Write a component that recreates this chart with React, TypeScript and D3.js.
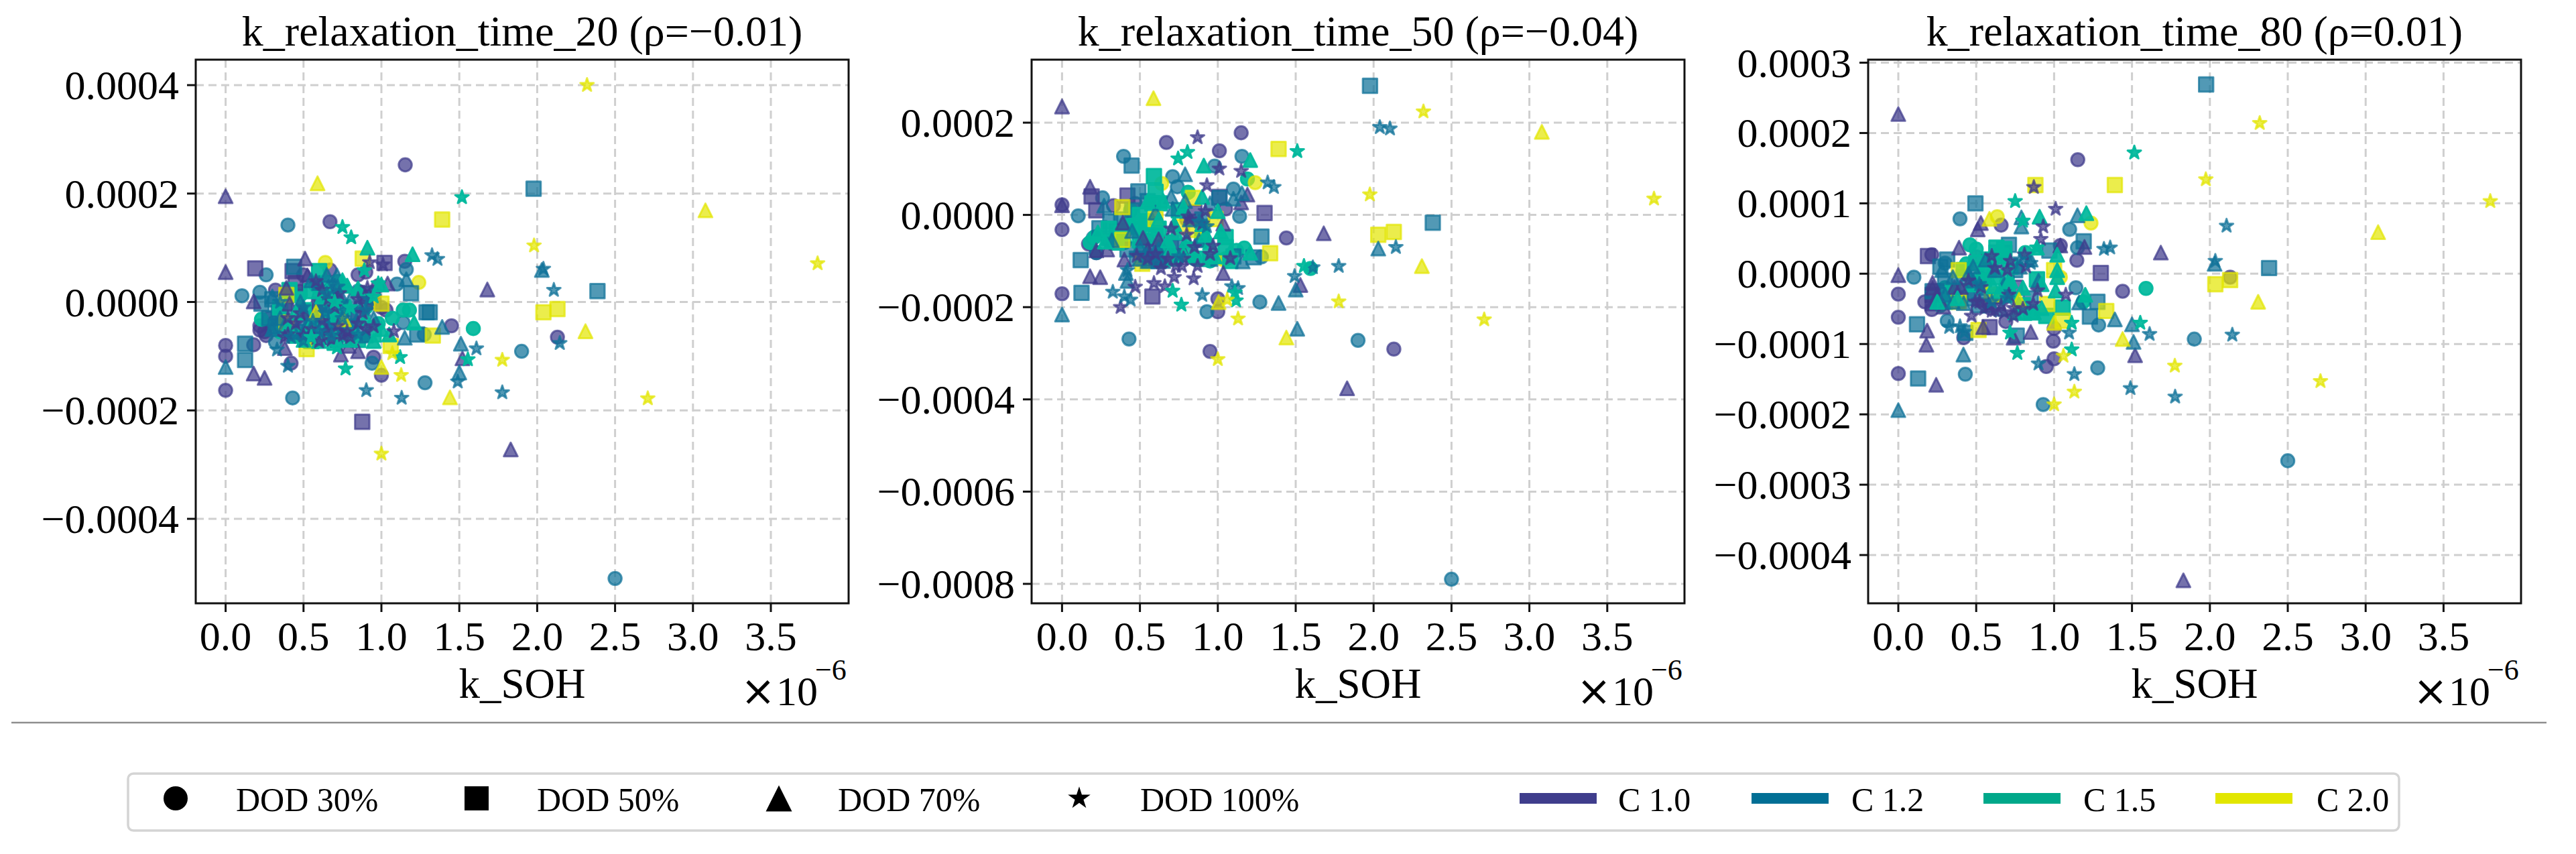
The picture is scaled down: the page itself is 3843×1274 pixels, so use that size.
import React from "react";
import * as d3 from "d3";

type Pt = [number, number, number]; // [k_SOH ×1e-6, k_relaxation ×1e-4, DOD index]

const dodLabels = ["DOD 30%", "DOD 50%", "DOD 70%", "DOD 100%"];
const cLabels = ["C 1.0", "C 1.2", "C 1.5", "C 2.0"];
const legendColors = ["#3f3d8c", "#016f95", "#00a88a", "#e2e600"];
const markerColors = ["#403c8c", "#0f7199", "#00b89c", "#e2e600"];
const markerAlpha = [0.72, 0.72, 0.93, 0.7];
const xTicks = [0, 0.5, 1, 1.5, 2, 2.5, 3, 3.5];

const titles = ["k_relaxation_time_20 (ρ=−0.01)", "k_relaxation_time_50 (ρ=−0.04)", "k_relaxation_time_80 (ρ=0.01)"];
const yTicks20 = [-4, -2, 0, 2, 4];
const yTicks50 = [-8, -6, -4, -2, 0, 2];
const yTicks80 = [-4, -3, -2, -1, 0, 1, 2, 3];

const p20c10: Pt[] = [
  [1.153, 2.53, 0], [0.67, 1.48, 0], [0, -0.8, 0], [0, -1, 0], [0, -1.63, 0], [0.18, -0.79, 0], [0.42, -1.13, 0], [0.95, -1.02, 0], [1, -1.35, 0], [1.45, -0.44, 0], [2.13, -0.65, 0], [1.15, 0.75, 0], [0.22, -0.44, 0], [0.22, -0.52, 0], [0.32, 0.22, 0], [0.48, 0.2, 0], [0.67, 0.59, 0], [0.5, 0.5, 0], [0.3, -0.4, 0], [0.25, -0.55, 0], [0.55, -0.3, 0], [0.95, 0.15, 0], [1, -0.1, 0], [0.28, -0.3, 0], [0.26, -0.62, 0], [0.85, 0.5, 0], [0.9, 0.55, 0], [0.98, 0.3, 0], [1.03, -0.15, 0],
  [0.19, 0.62, 1], [1.02, 0.72, 1], [0.43, 0.57, 1], [0.877, -2.21, 1], [0.6, -0.05, 1], [0.8, -0.2, 1], [0.95, 0, 1], [0.45, 0.35, 1],
  [0, 1.95, 2], [0, 0.55, 2], [0.51, 0.8, 2], [1.68, 0.23, 2], [0.18, -1.32, 2], [0.25, -1.4, 2], [0.18, 0.01, 2], [0.41, -0.03, 2], [0.39, 0.26, 2], [0.74, -0.97, 2], [0.85, -0.91, 2], [0.38, -0.85, 2], [0.79, -0.81, 2], [1.52, -1.04, 2], [1.83, -2.72, 2], [1.04, 0.34, 2], [0.525, 0.49, 2], [0.5, -0.2, 2], [0.7, 0.2, 2], [0.9, 0.1, 2], [0.6, -0.65, 2],
  [0.925, 0.73, 3], [1.01, 0.69, 3], [0.62, 0.22, 3], [0.73, 0.16, 3], [0.91, 0.26, 3], [0.48, -0.21, 3], [1.08, -0.54, 3], [0.6, -0.73, 3], [0.38, -0.65, 3], [0.9, -0.5, 3], [0.72, -0.44, 3], [0.8, -0.65, 3], [0.65, -0.54, 3], [0.85, -0.4, 3], [0.55, -0.5, 3], [0.7, -0.1, 3], [0.62, -0.35, 3], [0.78, -0.55, 3], [0.95, -0.45, 3], [0.85, 0.05, 3], [0.45, -0.4, 3], [0.4, -0.6, 3], [0.5, -0.62, 3], [0.58, 0.38, 3], [0.66, 0.05, 3], [0.75, -0.62, 3], [0.88, -0.2, 3], [0.4, -0.3, 3], [0.68, -0.7, 3],
];
const p20c12: Pt[] = [
  [0.4, 1.42, 0], [0.26, 0.5, 0], [0.105, 0.115, 0], [0.22, 0.18, 0], [0.32, -0.74, 0], [0.43, -1.77, 0], [0.94, -1.13, 0], [1.28, -1.49, 0], [1.9, -0.91, 0], [2.5, -5.1, 0], [1.1, 0.33, 0], [1.16, 0.6, 0], [1.275, -0.6, 0], [1.14, -0.38, 0], [0.4, -0.5, 0], [0.6, 0.1, 0], [0.7, -0.2, 0], [0.55, -0.6, 0], [0.75, -0.45, 0], [0.85, 0.2, 0],
  [1.977, 2.09, 1], [2.387, 0.2, 1], [0.125, -0.77, 1], [0.125, -1.07, 1], [0.44, 0.65, 1], [1.19, 0.16, 1], [1.29, -0.19, 1], [1.31, -0.19, 1], [1.23, -0.6, 1], [0.23, -0.03, 1], [0.3, 0.05, 1], [0.38, -0.1, 1], [0.45, -0.55, 1], [0.55, -0.45, 1], [0.65, -0.35, 1], [0.7, -0.5, 1], [0.85, -0.25, 1], [0.32, -0.45, 1], [0.5, -0.6, 1], [0.9, 0.15, 1], [0.28, -0.3, 1], [0.34, -0.2, 1], [0.42, -0.38, 1], [0.5, -0.3, 1], [0.58, -0.55, 1], [0.62, -0.2, 1], [0.68, -0.62, 1], [0.74, -0.35, 1], [0.8, -0.45, 1], [0.88, -0.55, 1], [0.46, -0.62, 1], [0.54, -0.7, 1],
  [0, -1.2, 2], [1.15, -0.66, 2], [1.39, -0.46, 2], [1.51, -0.77, 2], [1.5, -1.3, 2], [1.16, 0.42, 2], [2.03, 0.59, 2], [0.715, 0.49, 2], [0.78, 0.3, 2], [0.3, 0.1, 2], [0.35, -0.3, 2], [0.5, -0.55, 2], [0.6, -0.25, 2], [0.7, 0.3, 2], [0.75, -0.55, 2], [0.85, -0.05, 2], [0.95, -0.3, 2], [0.55, 0.4, 2], [0.65, 0.5, 2], [0.8, 0.05, 2], [0.3, -0.5, 2], [0.38, -0.42, 2], [0.44, -0.55, 2], [0.52, -0.45, 2], [0.58, -0.6, 2], [0.66, -0.45, 2], [0.72, -0.7, 2], [0.68, -0.05, 2], [0.74, 0.12, 2], [0.6, 0.35, 2], [0.66, 0.28, 2], [0.9, -0.62, 2], [0.84, -0.35, 2], [0.48, 0, 2],
  [1.325, 0.86, 3], [1.36, 0.79, 3], [2.04, 0.61, 3], [2.107, 0.22, 3], [2.145, -0.76, 3], [1.61, -0.86, 3], [1.49, -1.47, 3], [1.776, -1.67, 3], [0.903, -1.63, 3], [1.13, -1.77, 3], [0.33, -0.88, 3], [0.4, -1.18, 3], [0.5, -0.1, 3], [0.65, 0.15, 3], [0.75, -0.3, 3], [0.9, -0.15, 3], [0.6, -0.55, 3], [0.85, -0.6, 3], [0.35, 0, 3], [0.42, -0.65, 3], [0.5, -0.72, 3], [0.56, -0.35, 3], [0.68, -0.62, 3], [0.72, 0.28, 3], [0.76, -0.15, 3], [0.92, 0.05, 3], [0.64, -0.2, 3],
];
const p20c15: Pt[] = [
  [1.59, -0.49, 0], [1.14, -0.15, 0], [1.18, -0.15, 0], [1.07, -0.3, 0], [0.23, -0.32, 0], [0.32, -0.4, 0], [0.48, 0.13, 0], [0.58, 0.3, 0], [0.7, 0.2, 0], [0.6, -0.1, 0], [0.8, -0.55, 0], [0.9, -0.1, 0], [0.35, -0.55, 0], [0.42, 0.1, 0], [0.72, 0.38, 0], [0.98, -0.4, 0], [0.66, -0.3, 0],
  [0.6, 0.57, 1], [0.41, 0.22, 1], [0.55, 0.2, 1], [0.65, -0.65, 1], [0.75, -0.1, 1], [0.85, -0.7, 1], [0.5, -0.15, 1], [0.6, -0.35, 1], [0.95, -0.6, 1], [0.35, -0.1, 1], [0.45, -0.62, 1], [0.55, -0.72, 1], [0.7, -0.75, 1], [0.8, -0.6, 1], [0.62, 0.35, 1], [0.68, 0.05, 1], [0.72, -0.3, 1],
  [0.91, 1, 2], [1.2, 0.88, 2], [1.21, -0.38, 2], [0.78, 0.3, 2], [1, 0.32, 2], [0.73, -0.11, 2], [0.62, 0.1, 2], [0.7, -0.65, 2], [0.8, -0.7, 2], [0.9, -0.3, 2], [1, -0.5, 2], [0.45, -0.2, 2], [0.55, -0.4, 2], [0.85, 0.25, 2], [0.5, -0.7, 2], [0.6, -0.72, 2], [0.65, 0.2, 2], [0.75, 0.4, 2], [0.95, -0.72, 2], [1.05, -0.6, 2], [0.4, -0.45, 2],
  [1.517, 1.93, 3], [0.75, 1.38, 3], [0.806, 1.19, 3], [0.715, -0.84, 3], [0.77, -1.23, 3], [1.555, -1.06, 3], [1.12, -1.02, 3], [0.89, 0.58, 3], [0.98, 0.34, 3], [0.7, 0, 3], [0.8, -0.1, 3], [0.95, 0.1, 3], [0.55, -0.65, 3],
];
const p20c20: Pt[] = [
  [0.64, 0.73, 0], [1.24, 0.36, 0],
  [1.39, 1.52, 1], [2.04, -0.19, 1], [2.13, -0.13, 1], [1.33, -0.62, 1], [0.52, -0.87, 1], [0.88, 0.8, 1], [0.39, 0.13, 1], [1, -0.03, 1], [0.39, -0.38, 1], [1.06, -0.81, 1],
  [0.59, 2.19, 2], [1, -1.2, 2], [1.44, -1.76, 2], [2.31, -0.54, 2], [3.08, 1.69, 2], [0.76, -0.32, 2], [0.58, -0.19, 2],
  [1.98, 1.04, 3], [1.776, -1.07, 3], [1.127, -1.35, 3], [1.07, -0.95, 3], [2.32, 4, 3], [3.8, 0.71, 3], [2.71, -1.78, 3], [1, -2.8, 3],
];

const p50c10: Pt[] = [
  [1.15, 1.78, 0], [0.67, 1.57, 0], [1.01, 1.39, 0], [1.44, -0.5, 0], [0, -0.32, 0], [0, 0.22, 0], [0, -1.71, 0], [0.17, -0.63, 0], [1, -1.82, 0], [1, -2.1, 0], [0.95, -2.96, 0], [2.13, -2.91, 0], [0.33, 0.2, 0], [0.47, 0.25, 0], [1.05, 0.13, 0], [0.22, -0.82, 0], [0.55, -0.55, 0], [0.8, -0.1, 0],
  [0.42, 0.42, 1], [0.19, 0.4, 1], [0.22, 0.1, 1], [1.3, 0.04, 1], [0.58, -1.77, 1], [1.01, 0.39, 1], [0.85, 0.05, 1], [0.7, -0.6, 1],
  [0, 2.35, 2], [0.18, 0.61, 2], [0, 0.21, 2], [1.68, -0.4, 2], [0.18, -1.33, 2], [0.245, -1.35, 2], [0.4, -0.97, 2], [0.39, -0.17, 2], [0.22, -0.77, 2], [0.29, -0.75, 2], [1.15, 0.27, 2], [1.035, -0.19, 2], [1.53, -1.52, 2], [0.77, -0.75, 2], [0.62, -0.53, 2], [1.035, -1.26, 2], [1.19, 0.44, 2], [1.83, -3.76, 2], [0.6, -0.9, 2], [0.68, -0.85, 2], [0.52, -0.5, 2], [0.55, -0.75, 2], [0.6, -0.95, 2],
  [0.87, 1.68, 3], [1.01, 1, 3], [1.15, 0.95, 3], [0.93, 0.64, 3], [0.92, 0.08, 3], [0.81, -0.04, 3], [0.376, -2, 3], [0.47, -1.56, 3], [0.59, -1.48, 3], [0.66, -1.55, 3], [0.635, -1.16, 3], [0.72, -1.35, 3], [0.73, -1.11, 3], [0.845, -1.38, 3], [0.87, -1.11, 3], [0.77, -1.11, 3], [0.8, -0.43, 3], [1.08, -0.94, 3], [0.48, -0.89, 3], [0.97, -0.67, 3], [0.9, -0.19, 3], [0.68, -0.95, 3], [0.55, -0.95, 3], [0.6, -0.85, 3], [0.78, -0.95, 3], [0.85, -0.7, 3], [0.95, -0.85, 3], [0.7, -0.3, 3], [0.82, -0.1, 3],
];
const p50c12: Pt[] = [
  [0.395, 1.27, 0], [0.104, -0.02, 0], [0.26, 0.37, 0], [1.14, -0.03, 0], [1.155, 1.27, 0], [0.98, 1.06, 0], [0.71, 0.83, 0], [0.74, 0.61, 0], [1.1, 0.56, 0], [0.93, -2.1, 0], [1.27, -1.89, 0], [0.43, -2.69, 0], [1.9, -2.72, 0], [0.22, -0.82, 0], [1.28, -0.91, 0], [2.5, -7.9, 0], [0.4, -0.4, 0], [0.65, -0.7, 0], [0.2, -0.5, 0],
  [0.447, 1.07, 1], [0.12, -0.98, 1], [0.125, -1.69, 1], [1.28, -0.47, 1], [2.38, -0.17, 1], [1.01, 0.37, 1], [0.49, 0.51, 1], [0.24, -0.29, 1], [0.31, -0.14, 1], [1.23, -0.92, 1], [1.977, 2.8, 1], [0.35, -0.35, 1], [0.6, -0.75, 1], [0.68, -0.9, 1], [0.56, -1, 1], [0.75, -0.7, 1], [0.3, -0.5, 1], [0.38, -0.1, 1], [0.42, -0.75, 1], [0.48, -0.95, 1], [0.52, -0.7, 1], [0.58, -0.95, 1], [0.62, -1, 1], [0.45, 0.1, 1], [0.55, 0.3, 1], [0.9, -0.1, 1], [0.95, -0.95, 1], [1.1, -0.9, 1],
  [0.79, 0.88, 2], [0, -2.16, 2], [1.39, -1.91, 2], [1.5, -1.62, 2], [1.51, -2.47, 2], [2.03, -0.73, 2], [1.155, 0.47, 2], [0.27, 0.2, 2], [0.71, 0.13, 2], [0.41, -1.26, 2], [0.42, -1.43, 2], [1.16, -1.01, 2], [0.79, 0.3, 2], [0.59, -0.82, 2], [0.54, -0.87, 2], [0.6, 0.05, 2], [0.5, -0.7, 2], [0.65, -1, 2], [0.9, -0.2, 2], [0.88, -0.55, 2], [0.32, -0.55, 2], [0.5, -0.95, 2], [0.55, -1, 2], [0.62, -0.75, 2], [0.62, -0.95, 2], [0.45, -0.35, 2], [0.7, 0.4, 2], [0.72, -0.2, 2], [0.82, -0.1, 2], [0.95, 0.25, 2], [1.1, 0.35, 2],
  [1.32, 0.7, 3], [1.36, 0.6, 3], [2.04, 1.9, 3], [2.105, 1.87, 3], [2.143, -0.7, 3], [1.61, -1.14, 3], [1.776, -1.11, 3], [1.493, -1.33, 3], [0.9, -1.74, 3], [1.09, -1.55, 3], [1.13, -1.59, 3], [0.326, -1.67, 3], [0.4, -1.77, 3], [0.44, -1.84, 3], [0.42, -1.2, 3], [0.88, -0.15, 3], [0.93, -0.25, 3], [0.75, -0.9, 3],
];
const p50c15: Pt[] = [
  [1.19, 0.78, 0], [1.595, -1.16, 0], [1.17, -0.72, 0], [1.12, -0.77, 0], [0.81, 0.49, 0], [0.44, 0.1, 0], [0.21, -0.48, 0], [0.5, -0.3, 0], [0.95, -1, 0], [1.05, -0.95, 0], [0.18, -0.6, 0], [0.3, -0.55, 0], [0.4, -0.6, 0], [0.85, -0.95, 0],
  [0.59, 0.84, 1], [0.626, 0.25, 1], [0.47, -0.24, 1], [1.05, -0.48, 1], [0.9, -0.53, 1], [0.54, -0.14, 1], [0.6, 0.5, 1], [0.38, -0.4, 1], [0.5, -0.55, 1], [0.62, -0.3, 1], [0.75, 0.1, 1], [0.3, -0.3, 1], [0.35, -0.6, 1], [0.42, -0.25, 1], [0.5, 0, 1], [0.55, -0.2, 1], [0.58, 0.25, 1], [0.6, -0.45, 1], [0.65, -0.7, 1], [0.82, -0.75, 1], [0.9, -0.95, 1], [1.05, -0.7, 1], [1.08, -1, 1],
  [0.91, 1.07, 2], [1.208, 1.19, 2], [0.78, 0.17, 2], [0.9, 0.39, 2], [1, 0.08, 2], [0.73, -0.38, 2], [0.7, -0.72, 2], [0.92, -0.43, 2], [1.02, -0.36, 2], [0.84, -0.87, 2], [1.208, -0.82, 2], [0.23, -0.38, 2], [0.275, -0.58, 2], [0.72, -0.95, 2], [0.98, -0.9, 2], [1.08, -0.8, 2], [0.68, -0.55, 2], [0.72, -0.2, 2], [0.78, -0.85, 2], [0.8, -0.55, 2], [0.9, -0.2, 2], [0.95, -0.6, 2], [0.62, -0.1, 2], [0.55, 0.3, 2], [0.65, 0.3, 2],
  [1.51, 1.38, 3], [0.745, 1.22, 3], [0.805, 1.36, 3], [0.71, -1.65, 3], [0.766, -1.95, 3], [1.553, -1.11, 3], [1.117, -1.86, 3], [1.11, -1.69, 3],
];
const p50c20: Pt[] = [
  [0.64, 0.68, 0], [1.24, 0.7, 0], [1.035, -0.97, 0],
  [1.39, 1.43, 1], [0.387, 0.17, 1], [0.387, -0.54, 1], [0.6, -0.09, 1], [1.336, -0.83, 1], [2.03, -0.43, 1], [2.13, -0.37, 1], [0.515, -1.06, 1], [0.985, -0.09, 1], [0.84, 0.37, 1], [0.77, -0.26, 1], [0.85, -0.33, 1],
  [1.44, -2.66, 2], [2.31, -1.11, 2], [1.005, -1.89, 2], [0.587, 2.53, 2], [3.08, 1.8, 2],
  [1.976, 0.44, 3], [1.776, -1.88, 3], [1.13, -2.25, 3], [1.06, -1.84, 3], [2.32, 2.24, 3], [3.8, 0.35, 3], [2.71, -2.27, 3], [1, -3.13, 3],
];

const p80c10: Pt[] = [
  [1.152, 1.62, 0], [0.66, 0.69, 0], [1.04, 0.4, 0], [1.146, 0.19, 0], [1.44, -0.25, 0], [2.13, -0.05, 0], [0.69, -0.68, 0], [0.995, -0.96, 0], [1, -1.21, 0], [0.95, -1.32, 0], [0.17, -0.4, 0], [0.215, -0.51, 0], [0.42, -0.91, 0], [1, -0.78, 0], [0.215, 0.27, 0], [0.5, 0.24, 0], [0, -0.29, 0], [0, -0.62, 0], [0, -1.42, 0],
  [0.19, 0.25, 1], [1.3, 0.01, 1], [0.586, -0.76, 1], [0.22, -0.3, 1], [0.22, -0.42, 1], [0.75, -0.2, 1],
  [0.53, 0.72, 2], [0.51, 0.63, 2], [0.39, 0.37, 2], [1.685, 0.3, 2], [0.185, -0.81, 2], [0.18, -1.01, 2], [0.243, -1.58, 2], [0.85, -0.83, 2], [1.52, -1.16, 2], [1.195, 0.38, 2], [1.04, 0.4, 2], [0.545, -0.76, 2], [0.29, -0.47, 2], [0.22, -0.13, 2], [0.4, -0.19, 2], [0.36, -0.19, 2], [0.74, -0.91, 2], [0, 2.27, 2], [0, -0.02, 2], [1.83, -4.36, 2], [0.22, -0.2, 2], [0.25, -0.3, 2],
  [0.87, 1.23, 3], [1.01, 0.92, 3], [0.93, 0.67, 3], [0.915, 0.49, 3], [0.47, -0.6, 3], [1.075, -0.3, 3], [0.894, -0.24, 3], [0.866, -0.43, 3], [0.71, -0.3, 3], [0.6, -0.53, 3], [0.74, -0.49, 3], [0.62, 0.08, 3], [0.81, 0.27, 3], [0.495, -0.4, 3], [0.53, -0.19, 3], [0.66, -0.45, 3], [0.8, -0.5, 3], [0.7, 0.05, 3], [0.55, -0.5, 3], [0.52, -0.4, 3], [0.58, -0.45, 3], [0.62, -0.52, 3], [0.68, -0.55, 3], [0.74, -0.6, 3], [0.82, 0.1, 3], [0.45, -0.1, 3], [0.6, 0.25, 3], [0.72, 0.18, 3],
];
const p80c12: Pt[] = [
  [0.396, 0.78, 0], [0.1, -0.05, 0], [1.1, 0.63, 0], [1.14, -0.2, 0], [1.15, 0.37, 0], [1.286, -0.73, 0], [0.314, -0.67, 0], [1.28, -1.34, 0], [1.9, -0.93, 0], [0.93, -1.86, 0], [0.43, -1.43, 0], [2.5, -2.66, 0], [0.3, 0.15, 0], [0.45, -0.3, 0],
  [0.495, 1, 1], [0.12, -0.72, 1], [0.127, -1.49, 1], [1.19, 0.46, 1], [2.38, 0.08, 1], [1.278, -0.4, 1], [1.23, -0.61, 1], [0.71, 0.41, 1], [0.314, 0.2, 1], [0.97, 0.33, 1], [1.976, 2.69, 1], [0.76, -0.88, 1], [0.43, -0.84, 1], [0.63, 0.3, 1], [0.3, -0.1, 1], [0.4, -0.25, 1], [0.55, -0.2, 1], [0.22, -0.25, 1], [0.62, -0.32, 1], [0.27, 0.1, 1], [0.3, -0.25, 1], [0.36, -0.35, 1], [0.42, -0.05, 1], [0.48, -0.35, 1], [0.52, -0.45, 1], [0.58, 0.05, 1], [0.62, 0.2, 1], [0.68, 0.3, 1], [0.75, 0.05, 1], [0.85, -0.35, 1], [0.28, -0.4, 1],
  [0.79, 0.8, 2], [0.79, 0.67, 2], [1.15, 0.83, 2], [2.03, 0.14, 2], [1.39, -0.65, 2], [1.5, -0.72, 2], [1.51, -0.97, 2], [0.418, -1.15, 2], [1.16, -0.41, 2], [0, -1.94, 2], [0.35, -0.05, 2], [0.48, -0.1, 2], [0.55, -0.3, 2], [0.68, -0.15, 2], [0.45, 0, 2], [0.62, 0.05, 2], [0.35, -0.4, 2], [0.28, 0.05, 2], [0.3, -0.3, 2], [0.42, -0.42, 2], [0.48, 0.1, 2], [0.58, -0.45, 2], [0.72, -0.3, 2], [0.78, 0.1, 2], [0.85, 0.2, 2], [0.9, -0.1, 2], [0.66, -0.5, 2], [0.56, 0.2, 2],
  [1.32, 0.35, 3], [1.36, 0.37, 3], [2.107, 0.68, 3], [2.035, 0.18, 3], [2.144, -0.87, 3], [1.613, -0.86, 3], [1.49, -1.63, 3], [1.777, -1.75, 3], [1.13, -1.43, 3], [0.9, -1.28, 3], [0.327, -0.76, 3], [0.424, -0.83, 3], [0.396, -0.75, 3], [1.096, -0.84, 3], [0.52, -0.15, 3], [0.7, -0.35, 3], [0.85, 0.15, 3], [0.6, -0.4, 3], [0.78, 0.2, 3],
];
const p80c15: Pt[] = [
  [0.46, 0.41, 0], [1.59, -0.21, 0], [1.187, -0.4, 0], [0.437, 0.14, 0], [0.52, -0.05, 0], [0.816, 0.3, 0], [0.3, -0.2, 0], [0.7, -0.05, 0], [0.5, 0.35, 0], [0.27, -0.45, 0], [0.4, -0.4, 0],
  [0.63, 0.37, 1], [0.59, 0.2, 1], [1.055, -0.48, 1], [0.89, -0.08, 1], [0.66, 0.25, 1], [0.72, 0.1, 1], [0.48, -0.15, 1], [0.56, 0.05, 1], [0.3, -0.4, 1], [0.7, -0.2, 1], [0.42, 0.05, 1], [0.5, 0.15, 1], [0.55, -0.1, 1], [0.62, -0.05, 1], [0.66, -0.3, 1], [0.35, -0.25, 1], [0.8, -0.45, 1], [0.85, -0.55, 1], [0.95, -0.6, 1], [0.68, 0.35, 1],
  [0.907, 0.81, 2], [1.207, 0.86, 2], [1.01, -0.24, 2], [1.02, 0.27, 2], [0.89, 0.37, 2], [0.71, -0.11, 2], [0.81, -0.56, 2], [0.92, -0.49, 2], [1.2, -0.3, 2], [0.61, -0.18, 2], [1.02, -0.05, 2], [0.75, -0.55, 2], [0.87, -0.55, 2], [0.8, -0.2, 2], [0.25, -0.4, 2], [0.72, -0.1, 2], [0.74, -0.3, 2], [0.65, -0.25, 2], [0.78, -0.45, 2], [0.92, -0.15, 2], [1.02, 0.05, 2], [0.38, -0.35, 2],
  [1.515, 1.72, 3], [0.75, 1.03, 3], [0.8, 0.75, 3], [0.764, -1.13, 3], [1.113, -1.08, 3], [1.553, -0.7, 3], [1.113, -0.7, 3], [0.717, -0.84, 3], [0.89, 0.37, 3],
];
const p80c20: Pt[] = [
  [0.635, 0.81, 0], [1.237, 0.72, 0], [1.04, -0.05, 0],
  [0.88, 1.26, 1], [1.39, 1.26, 1], [2.035, -0.15, 1], [2.13, -0.09, 1], [1.335, -0.53, 1], [0.388, 0.05, 1], [0.388, -0.4, 1], [0.515, -0.8, 1], [1.055, -0.67, 1], [1, 0.05, 1], [0.6, -0.3, 1], [0.956, -0.43, 1],
  [0.585, 0.78, 2], [1, -0.7, 2], [1.44, -0.93, 2], [2.31, -0.4, 2], [3.08, 0.59, 2], [0.775, -0.37, 2],
  [1.974, 1.34, 3], [1.775, -1.31, 3], [1.06, -1.17, 3], [1.13, -1.68, 3], [1, -1.86, 3], [2.32, 2.14, 3], [3.8, 1.03, 3], [2.71, -1.53, 3],
];

const points20 = [p20c10, p20c12, p20c15, p20c20];
const points50 = [p50c10, p50c12, p50c15, p50c20];
const points80 = [p80c10, p80c12, p80c15, p80c20];

const triangleUp = {
  draw(ctx: any, size: number) {
    const r = Math.sqrt(size) / 2;
    ctx.moveTo(0, -r);
    ctx.lineTo(r, r);
    ctx.lineTo(-r, r);
    ctx.closePath();
  },
};
const symbolTypes: any[] = [d3.symbolCircle, d3.symbolSquare, triangleUp, d3.symbolStar];
const markerSizes = [300, 460, 420, 125];
const legendSizes = [1018, 1296, 1521, 350];
const symbolPath = (i: number, sizes: number[]) => d3.symbol().type(symbolTypes[i]).size(sizes[i])() as string;

const font = "'Liberation Serif', 'Times New Roman', serif";
const fmtY = (v: number) => (v === 0 ? "0.0000" : (v < 0 ? "−" : "") + Math.abs(v * 1e-4).toFixed(4));

const panels = [
  { left: 292, zeroX: 336.6, data: points20, ticks: yTicks20, yRef: [[4, 127], [-4, 774]] },
  { left: 1539, zeroX: 1584.4, data: points50, ticks: yTicks50, yRef: [[2, 183], [-8, 871]] },
  { left: 2787, zeroX: 2832, data: points80, ticks: yTicks80, yRef: [[3, 93.5], [-4, 828]] },
];
const panelW = 974;
const top = 89;
const bottom = 900;
const xUnit = 232.4;

function Panel({ p, title }: { p: (typeof panels)[number]; title: string }) {
  const x = d3.scaleLinear().domain([0, 1]).range([p.zeroX, p.zeroX + xUnit]);
  const y = d3.scaleLinear().domain([p.yRef[0][0], p.yRef[1][0]]).range([p.yRef[0][1], p.yRef[1][1]]);
  const right = p.left + panelW;
  const cx = p.left + panelW / 2;
  const marks: { pt: Pt; c: number }[] = [];
  [0, 1, 2, 3].forEach((dod) =>
    p.data.forEach((arr, c) => arr.filter((d) => d[2] === dod).forEach((pt) => marks.push({ pt, c })))
  );
  return (
    <g fontFamily={font} fill="#000">
      {xTicks.map((t) => (
        <line key={t} x1={x(t)} x2={x(t)} y1={top} y2={bottom} stroke="#cfcfcf" strokeWidth={3} strokeDasharray="12 7" />
      ))}
      {p.ticks.map((t) => (
        <line key={t} x1={p.left} x2={right} y1={y(t)} y2={y(t)} stroke="#cfcfcf" strokeWidth={3} strokeDasharray="12 7" />
      ))}
      {marks.map(({ pt, c }, i) => (
        <path
          key={i}
          d={symbolPath(pt[2], markerSizes)}
          transform={`translate(${x(pt[0])},${y(pt[1])})`}
          fill={markerColors[c]}
          fillOpacity={markerAlpha[c]}
          stroke={markerColors[c]}
          strokeOpacity={markerAlpha[c]}
          strokeWidth={3}
          strokeLinejoin="round"
        />
      ))}
      <rect x={p.left} y={top} width={panelW} height={bottom - top} fill="none" stroke="#111" strokeWidth={3} />
      {xTicks.map((t) => (
        <g key={t}>
          <line x1={x(t)} x2={x(t)} y1={bottom} y2={bottom + 13} stroke="#111" strokeWidth={3} />
          <text x={x(t)} y={970} fontSize={62} textAnchor="middle">{t.toFixed(1)}</text>
        </g>
      ))}
      {p.ticks.map((t) => (
        <g key={t}>
          <line x1={p.left - 13} x2={p.left} y1={y(t)} y2={y(t)} stroke="#111" strokeWidth={3} />
          <text x={p.left - 25} y={y(t) + 21} fontSize={62} textAnchor="end">{fmtY(t)}</text>
        </g>
      ))}
      <text x={cx} y={68} fontSize={64} textAnchor="middle">{title}</text>
      <text x={cx} y={1041} fontSize={63} textAnchor="middle">k_SOH</text>
      <text x={right - 161} y={1052} fontSize={62} fontFamily="'DejaVu Sans'">×</text>
      <text x={right - 108} y={1052} fontSize={62}>10</text>
      <text x={right - 50} y={1014} fontSize={44}>−6</text>
    </g>
  );
}

export default function App() {
  const legY = 1191;
  const dodX = [262, 711, 1162, 1610];
  const dodTextX = [352, 801, 1250, 1701];
  const swatchX = [2267, 2613, 2959, 3305];
  const cTextX = [2414, 2762, 3108, 3456];
  return (
    <svg
      width={3843}
      height={1274}
      viewBox="0 0 3843 1274"
      style={{ position: "absolute", left: 0, top: 0, background: "#fff" }}
    >
      {panels.map((p, i) => (
        <Panel key={i} p={p} title={titles[i]} />
      ))}
      <line x1={17} x2={3799} y1={1078} y2={1078} stroke="#8e8e8e" strokeWidth={2.5} />
      <rect x={191} y={1154} width={3388} height={85} rx={8} fill="#fff" stroke="#d4d4d4" strokeWidth={3.5} />
      <g fontFamily={font} fontSize={50} fill="#000">
        {dodLabels.map((l, i) => (
          <g key={l}>
            <path d={symbolPath(i, legendSizes)} transform={`translate(${dodX[i]},${legY})`} fill="#000" />
            <text x={dodTextX[i]} y={1210}>{l}</text>
          </g>
        ))}
        {cLabels.map((l, i) => (
          <g key={l}>
            <line x1={swatchX[i]} x2={swatchX[i] + 115} y1={legY} y2={legY} stroke={legendColors[i]} strokeWidth={16} />
            <text x={cTextX[i]} y={1210}>{l}</text>
          </g>
        ))}
      </g>
    </svg>
  );
}
